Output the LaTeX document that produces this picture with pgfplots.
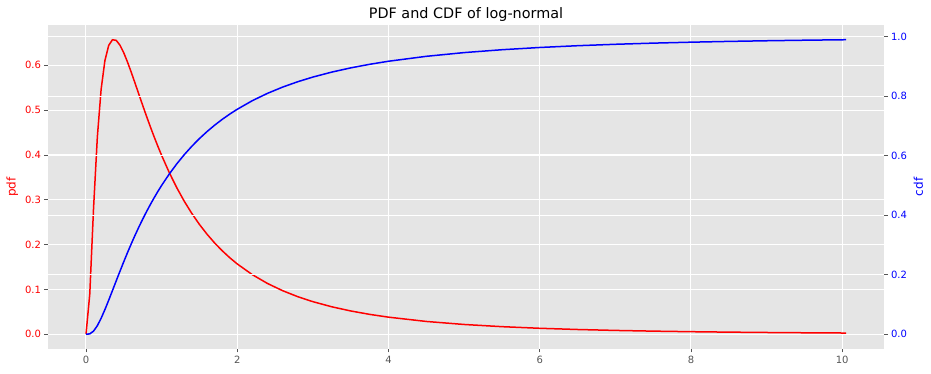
\documentclass[border=0pt]{standalone}
\usepackage{pgfplots}
\pgfplotsset{compat=1.18}
\usepackage{pgfplotstable}
\usepackage{fontspec}
\setmainfont{DejaVu Sans}
\definecolor{bg}{HTML}{E5E5E5}
\definecolor{tk}{HTML}{555555}
\definecolor{pdfred}{HTML}{FF0000}
\definecolor{cdfblue}{HTML}{0000FF}
\pgfplotstableread{
x pdf cdf
0.00 0.000000 0.000000
0.05 0.089780 0.001369
0.10 0.281590 0.010650
0.15 0.439840 0.028910
0.20 0.546270 0.053756
0.25 0.610460 0.082825
0.30 0.644200 0.114299
0.35 0.656930 0.146900
0.40 0.655450 0.179755
0.45 0.644530 0.212287
0.50 0.627500 0.244108
0.55 0.606650 0.274974
0.60 0.583570 0.304737
0.65 0.559370 0.333313
0.70 0.534800 0.360667
0.75 0.510360 0.386795
0.80 0.486410 0.411712
0.85 0.463190 0.435449
0.90 0.440820 0.458044
0.95 0.419390 0.479545
1.00 0.398942 0.500000
1.10 0.361030 0.537966
1.20 0.326970 0.572335
1.30 0.296500 0.603479
1.40 0.269280 0.631743
1.50 0.244970 0.657432
1.60 0.223270 0.680823
1.70 0.203850 0.702162
1.80 0.186470 0.721662
1.90 0.170880 0.739516
2.00 0.156874 0.755892
2.20 0.132890 0.784785
2.40 0.113310 0.809340
2.60 0.097210 0.830340
2.80 0.083860 0.848406
3.00 0.072730 0.864031
3.25 0.061290 0.880732
3.50 0.052010 0.894854
3.75 0.044410 0.906875
4.00 0.038154 0.917175
4.50 0.028600 0.933720
5.00 0.021851 0.946244
5.50 0.016962 0.955880
6.00 0.013355 0.963414
6.50 0.010645 0.969383
7.00 0.008583 0.974167
7.50 0.006987 0.978042
8.00 0.005740 0.981211
8.50 0.004753 0.983826
9.00 0.003966 0.985998
9.50 0.003331 0.987817
10.00 0.002816 0.989350
10.05 0.002770 0.989489
}\lognormal
\begin{document}
\begin{tikzpicture}
\begin{axis}[name=ax, scale only axis, width=836pt, height=324pt,
  xmin=-0.5025, xmax=10.5525, ymin=-0.032847, ymax=0.68978,
  axis background/.style={fill=bg},
  axis line style={draw=none},
  xmajorgrids, ymajorgrids, grid style={white, line width=1pt},
  xtick={0,2,4,6,8,10}, ytick={0,0.1,0.2,0.3,0.4,0.5,0.6},
  tick align=outside, xtick pos=bottom, ytick pos=left,
  major tick length=3.5pt, tick style={tk, line width=0.8pt},
  /pgf/number format/assume math mode=true,
  x tick label style={tk, font=\fontsize{10}{12}\selectfont},
  y tick label style={pdfred, font=\fontsize{10}{12}\selectfont},
  yticklabel style={/pgf/number format/.cd, fixed, fixed zerofill, precision=1},
  ylabel={pdf}, ylabel style={pdfred, font=\fontsize{12}{14}\selectfont},
  title={PDF and CDF of log-normal},
  title style={font=\fontsize{14.4}{17}\selectfont, at={(0.5,1)}, anchor=base, inner sep=0pt, yshift=0pt},
]
\addplot[pdfred, line width=1.5pt, line join=round] table[x=x, y=pdf] {\lognormal};
\end{axis}
\begin{axis}[scale only axis, width=836pt, height=324pt,
  xmin=-0.5025, xmax=10.5525, ymin=-0.049474, ymax=1.038963,
  axis line style={draw=none},
  ymajorgrids, grid style={white, line width=1pt},
  hide x axis,
  ytick={0,0.2,0.4,0.6,0.8,1.0},
  tick align=outside, ytick pos=right,
  major tick length=3.5pt, tick style={tk, line width=0.8pt},
  /pgf/number format/assume math mode=true,
  y tick label style={cdfblue, font=\fontsize{10}{12}\selectfont},
  yticklabel style={/pgf/number format/.cd, fixed, fixed zerofill, precision=1},
  ylabel={cdf}, ylabel style={cdfblue, font=\fontsize{12}{14}\selectfont},
  axis y line*=right,
]
\addplot[cdfblue, line width=1.5pt, line join=round] table[x=x, y=cdf] {\lognormal};
\end{axis}
\path ([xshift=-48pt,yshift=-25pt]ax.south west) rectangle ([xshift=47pt,yshift=25pt]ax.north east);
\end{tikzpicture}
\end{document}
